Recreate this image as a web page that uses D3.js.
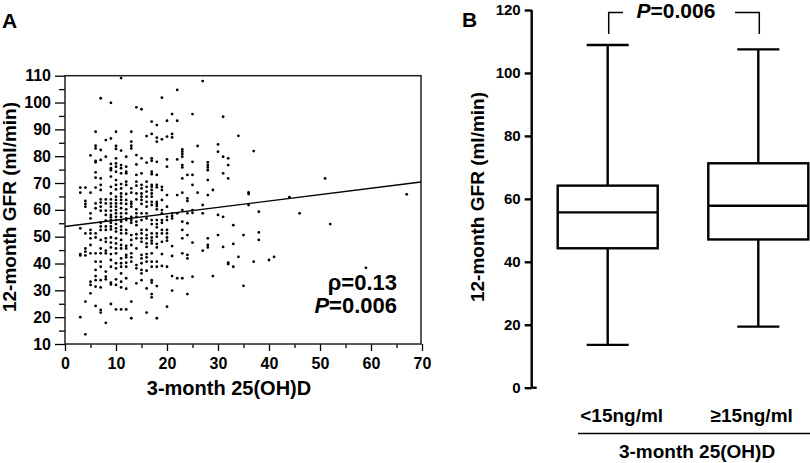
<!DOCTYPE html>
<html>
<head>
<meta charset="utf-8">
<script src="https://cdn.jsdelivr.net/npm/d3@7"></script>
<style>
  body { margin: 0; background: #fff; }
  text { font-family: "Liberation Sans", Arial, sans-serif; font-weight: bold; fill: #000; }
</style>
</head>
<body>
<svg id="chart" width="810" height="463"></svg>
<script>
// ---- panel A data: 25(OH)D (x) columns with the 12-month GFR values read at each x
const columnX = [3, 4, 5, 6, 7, 8, 9, 10, 11, 12, 13, 14, 15, 16, 17, 18, 19, 20, 21, 22, 23, 24, 25, 26, 27, 28, 29, 30, 31, 32, 33, 34, 35, 36, 37, 38, 40, 41, 44, 46, 51, 52, 59, 67];
const columnGFR = [
    [68.3, 66.4, 53.1, 43.5, 43, 20],
    [68.3, 63.3, 62.2, 61.2, 51.2, 45.6, 44.4, 43, 25.8, 13.6],
    [80.3, 66.4, 58.7, 56.8, 52.5, 51.2, 49.4, 46.9, 43.8, 33.2, 32, 28.9],
    [89.1, 83.9, 82.9, 78.2, 77.7, 74, 72, 68.3, 62.4, 60.6, 51.2, 49.7, 43.8, 40.7, 37.6, 35.3, 33.8, 31.4, 24.2],
    [101.6, 82.3, 78.6, 71.7, 69.3, 67.4, 63.9, 62.7, 61.2, 59.7, 55.2, 53.8, 52.5, 48.8, 45.6, 43.8, 40.7, 38.8, 33.8, 31.1, 22.7, 21.7],
    [86, 79.8, 63.9, 62.4, 59.7, 58.1, 56, 53.8, 52.5, 49.4, 48.1, 44.8, 43.8, 37, 35.1, 34.1, 17.9],
    [99.9, 86.6, 77.1, 75.5, 74.8, 72.4, 68.6, 66.1, 63.9, 62.4, 61.2, 59.7, 58.1, 57.2, 56.2, 55.2, 53.8, 52.7, 49.7, 47.8, 46, 43.5, 41.3, 38.8, 32.9, 32.2, 24.9],
    [89.1, 83.8, 82.7, 79.2, 77.3, 76.1, 74.2, 71.1, 69.3, 67.6, 64.9, 63.7, 62.4, 61.2, 59.9, 58.7, 57.4, 56.2, 54.7, 53.1, 51.9, 49.4, 47.5, 45.6, 43.8, 40.1, 38.2, 34.1, 32, 22.9],
    [109.1, 82.1, 76.7, 75.5, 73.6, 69.6, 68, 66.1, 64.9, 63.7, 62.4, 60.6, 58.7, 57.4, 56.2, 55.6, 53.8, 52.5, 51.2, 48.8, 46.9, 45.6, 41.9, 40.1, 38.8, 36.3, 33.2, 31.1, 22.9],
    [79.8, 76.1, 74.2, 73.6, 70.5, 69.3, 65.9, 63.7, 62.2, 60.2, 58.7, 56.8, 56.2, 52.5, 51.2, 46.6, 45.6, 43.2, 42.3, 40.3, 38.8, 34.5, 30.6, 22.9],
    [89.1, 85.4, 83.9, 82.9, 68, 66.4, 63, 62.2, 61.2, 57.4, 56.2, 55.2, 50.6, 48.8, 46.9, 43.8, 42.3, 40.7, 25.8, 19.6],
    [98.2, 80.4, 76.9, 73, 70.5, 69, 66.1, 63.9, 60.2, 58.7, 57.4, 55.6, 54.3, 50.9, 49.4, 45.6, 39.4, 38.2, 32.6],
    [97.5, 79.2, 73.6, 69.3, 68, 66.1, 64.9, 63.7, 62.2, 58.7, 56.2, 52.5, 51.2, 49.4, 48.1, 43.2, 41.9, 40.1, 37.6, 36.3, 33.8],
    [87.5, 77.6, 70.5, 68.6, 66.8, 64.9, 63, 61.2, 58.7, 56.8, 52.5, 50.6, 49.4, 47.5, 46.2, 43.5, 42.3, 40.7, 37.3, 30.7, 21.7],
    [92.9, 88.3, 79.2, 78.3, 74.2, 73.3, 69.3, 68.6, 67.4, 66.1, 64.9, 63, 61.8, 56.2, 54.7, 51.2, 49.7, 48.5, 47.5, 43.8, 40.7, 38.8, 33.8, 32.9, 28.6, 27.4],
    [91.6, 86.9, 85.4, 77.9, 73, 69.3, 68.4, 63, 62.2, 61.4, 60.2, 56.2, 54.7, 53.5, 51.2, 50, 47.3, 46, 40.7, 38.8, 31.6, 19.6],
    [101.8, 86.3, 68.6, 67.4, 63.7, 59.9, 58.7, 56.2, 55.2, 52.5, 51.2, 48.1, 43.5, 39.1],
    [93.2, 87.3, 78.8, 76.1, 65.5, 61.2, 57.4, 56.2, 52.5, 51.2, 49.7, 48.5, 38.8, 23.9],
    [95.7, 88.3, 87, 58.7, 57.7, 56.8, 46.5, 42.8, 35.3, 29.9],
    [104.7, 93.2, 78.8, 65.5, 58.7, 34.5],
    [82.5, 81.7, 80.8, 79.8, 76.7, 75.8, 71.7, 66.4, 59.9, 55.6, 52.5, 49.4, 43.8, 34.5],
    [73, 64.3, 63.3, 58.7, 55, 50.6, 43.2, 41.9, 28.6],
    [95.7, 77.9, 73, 69.3, 59.9, 58.9, 47.8, 35.1],
    [83.8, 66.4],
    [108, 61.8, 58.7, 44.8],
    [77.7, 76.7, 75.8, 74.8, 71.1, 65.5, 49.4, 46.9, 46],
    [67.4, 35.3],
    [84.4, 81.7, 58.1, 50.6],
    [94.7, 79.8, 73.6, 57.4, 46.2],
    [79.2, 76.7, 71.7, 40.3, 39.8],
    [54.3, 47.3, 38.8],
    [87.6, 42.5],
    [50.6, 31.7],
    [66.5, 65.9, 61.8],
    [81.9, 40.7],
    [59.3, 51.6, 48.8],
    [41.3], [42.5], [64.7], [58.7], [71.7], [54.7], [38.4], [65.8]
];
const fitIntercept = 53.8;
const fitSlope = 0.237;
const xTicksA = [0, 10, 20, 30, 40, 50, 60, 70];
const yTicksA = [10, 20, 30, 40, 50, 60, 70, 80, 90, 100, 110];
const statRho = "ρ=0.13";
const statP = "=0.006";

// ---- panel B data
const groups = ["<15ng/ml", "≥15ng/ml"];
const whiskerLow = [13.6, 19.4];
const q1 = [44.3, 47.1];
const median = [55.7, 57.8];
const q3 = [64.2, 71.3];
const whiskerHigh = [108.9, 107.5];
const yTicksB = [0, 20, 40, 60, 80, 100, 120];

let svg = d3.select("#chart");

// ================= panel A =================
let xA = d3.scaleLinear().domain([0, 70]).range([65, 422]);
let yA = d3.scaleLinear().domain([10, 110]).range([344, 75.7]);

let points = [];
columnX.forEach((x, i) => columnGFR[i].forEach(v => points.push([x, v])));

// minor ticks
svg.append("g")
    .attr("transform", "translate(65,0)")
    .call(d3.axisLeft(yA).tickValues(d3.range(15, 110, 10)).tickSize(6).tickFormat(""))
    .call(g => g.select(".domain").remove());
svg.append("g")
    .attr("transform", "translate(0,344)")
    .call(d3.axisBottom(xA).tickValues(d3.range(5, 70, 10)).tickSize(4).tickFormat(""))
    .call(g => g.select(".domain").remove());

let yAxisA = svg.append("g")
    .attr("transform", "translate(65,0)")
    .call(d3.axisLeft(yA).tickValues(yTicksA).tickSize(10).tickPadding(4));
yAxisA.select(".domain").remove();
yAxisA.selectAll("text").style("font-size", "16px").style("font-family", null);

let xAxisA = svg.append("g")
    .attr("transform", "translate(0,344)")
    .call(d3.axisBottom(xA).tickValues(xTicksA).tickSize(7).tickPadding(7));
xAxisA.select(".domain").remove();
xAxisA.selectAll("text").style("font-size", "16px");

svg.selectAll(".tick line").attr("stroke-width", 1.3);
svg.selectAll("g").attr("font-family", null);

// frame
svg.append("rect")
    .attr("x", xA(0)).attr("y", yA(110))
    .attr("width", xA(70) - xA(0) - 1).attr("height", yA(10) - yA(110))
    .attr("fill", "none").attr("stroke", "#222").attr("stroke-width", 1.5);

svg.append("g").selectAll("circle")
    .data(points)
    .enter()
    .append("circle")
    .attr("cx", d => xA(d[0]))
    .attr("cy", d => yA(d[1]))
    .attr("r", 1.4)
    .attr("fill", "#000");

svg.append("line")
    .attr("x1", xA(0)).attr("y1", yA(fitIntercept))
    .attr("x2", xA(70) - 1).attr("y2", yA(fitIntercept + fitSlope * 70))
    .attr("stroke", "#000").attr("stroke-width", 1.4);

svg.append("text").attr("x", 397).attr("y", 290)
    .attr("text-anchor", "end").style("font-size", "22px").text(statRho);
let pA = svg.append("text").attr("x", 397).attr("y", 313)
    .attr("text-anchor", "end").style("font-size", "22px");
pA.append("tspan").style("font-style", "italic").text("P");
pA.append("tspan").text(statP);

svg.append("text").attr("x", 229).attr("y", 395)
    .attr("text-anchor", "middle").style("font-size", "20px").text("3-month 25(OH)D");
svg.append("text")
    .attr("transform", "translate(16,207) rotate(-90)")
    .attr("text-anchor", "middle").style("font-size", "19px").text("12-month GFR (ml/min)");
svg.append("text").attr("x", 2).attr("y", 28).style("font-size", "21px").text("A");

// ================= panel B =================
let yB = d3.scaleLinear().domain([0, 120]).range([387.7, 10]);
let xB = d3.scalePoint().domain(groups).range([607.7, 758.3]);
let axisX = 531.7;
let boxW = 100, capW = 42;
let labelShift = [14, -6.6];

let yAxisB = svg.append("g")
    .attr("transform", "translate(" + axisX + ",0)")
    .call(d3.axisLeft(yB).tickValues(yTicksB).tickSize(7).tickPadding(4));
yAxisB.attr("font-family", null);
yAxisB.selectAll("path, line").attr("stroke-width", 2.4);
yAxisB.select(".domain").attr("d", "M0," + yB(120) + "V" + yB(0));
yAxisB.selectAll("text").style("font-size", "15px");
// zero tick crosses the axis
svg.append("line")
    .attr("x1", axisX).attr("x2", axisX + 5)
    .attr("y1", yB(0)).attr("y2", yB(0))
    .attr("stroke", "#000").attr("stroke-width", 2.4);

let boxes = svg.append("g").selectAll("g")
    .data(groups)
    .enter()
    .append("g");

boxes.append("line")
    .attr("x1", d => xB(d)).attr("x2", d => xB(d))
    .attr("y1", (d, i) => yB(whiskerLow[i])).attr("y2", (d, i) => yB(whiskerHigh[i]))
    .attr("stroke", "#000").attr("stroke-width", 2.4);
boxes.append("rect")
    .attr("x", d => xB(d) - boxW / 2)
    .attr("y", (d, i) => yB(q3[i]))
    .attr("width", boxW)
    .attr("height", (d, i) => yB(q1[i]) - yB(q3[i]))
    .attr("fill", "#fff").attr("stroke", "#000").attr("stroke-width", 2.4);
boxes.append("line")
    .attr("x1", d => xB(d) - boxW / 2).attr("x2", d => xB(d) + boxW / 2)
    .attr("y1", (d, i) => yB(median[i])).attr("y2", (d, i) => yB(median[i]))
    .attr("stroke", "#000").attr("stroke-width", 2.4);
[whiskerLow, whiskerHigh].forEach(arr => {
    boxes.append("line")
        .attr("x1", d => xB(d) - capW / 2).attr("x2", d => xB(d) + capW / 2)
        .attr("y1", (d, i) => yB(arr[i])).attr("y2", (d, i) => yB(arr[i]))
        .attr("stroke", "#000").attr("stroke-width", 2.4);
});

boxes.append("text")
    .attr("x", (d, i) => xB(d) + labelShift[i]).attr("y", 422)
    .attr("text-anchor", "middle").style("font-size", "19px")
    .text(d => d);

svg.append("line")
    .attr("x1", 578).attr("x2", 810).attr("y1", 433.5).attr("y2", 433.5)
    .attr("stroke", "#000").attr("stroke-width", 1.6);
svg.append("text").attr("x", 697).attr("y", 458)
    .attr("text-anchor", "middle").style("font-size", "19px").text("3-month 25(OH)D");
svg.append("text")
    .attr("transform", "translate(484,197) rotate(-90)")
    .attr("text-anchor", "middle").style("font-size", "19px").text("12-month GFR (ml/min)");
svg.append("text").attr("x", 462).attr("y", 27).style("font-size", "21px").text("B");

// significance bracket
let bx1 = xB(groups[0]) + 1, bx2 = xB(groups[1]) + 1;
let bTop = 12.5, bLeg = 34;
let bracket = d3.path();
bracket.moveTo(bx1, bLeg); bracket.lineTo(bx1, bTop); bracket.lineTo(623, bTop);
bracket.moveTo(735, bTop); bracket.lineTo(bx2, bTop); bracket.lineTo(bx2, bLeg);
svg.append("path").attr("d", bracket.toString())
    .attr("fill", "none").attr("stroke", "#000").attr("stroke-width", 1.5);
let pB = svg.append("text").attr("x", 676).attr("y", 18)
    .attr("text-anchor", "middle").style("font-size", "21px");
pB.append("tspan").style("font-style", "italic").text("P");
pB.append("tspan").text(statP);
</script>
</body>
</html>
